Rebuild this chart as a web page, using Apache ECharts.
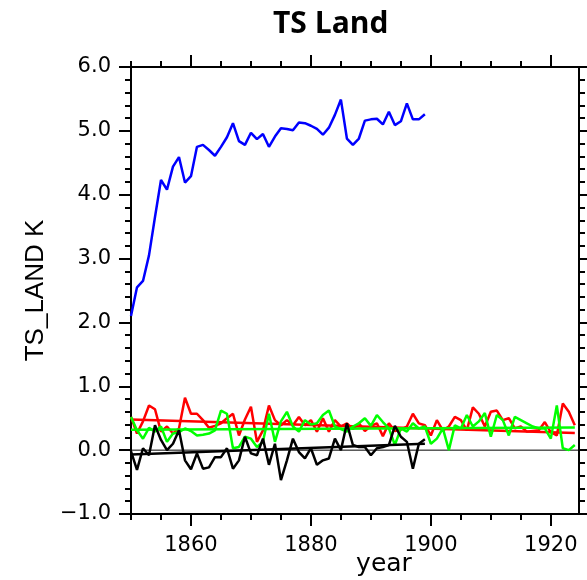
<!DOCTYPE html>
<html>
<head>
<meta charset="utf-8">
<script src="https://cdn.jsdelivr.net/npm/echarts@6/dist/echarts.min.js"></script>
<style>
html, body { margin: 0; padding: 0; background: #fff; }
#tsland { width: 587px; height: 580px; }
</style>
</head>
<body>
<div id="tsland"></div>
<script>
// years of the run
var years = [1850, 1851, 1852, 1853, 1854, 1855, 1856, 1857, 1858, 1859,
  1860, 1861, 1862, 1863, 1864, 1865, 1866, 1867, 1868, 1869,
  1870, 1871, 1872, 1873, 1874, 1875, 1876, 1877, 1878, 1879,
  1880, 1881, 1882, 1883, 1884, 1885, 1886, 1887, 1888, 1889,
  1890, 1891, 1892, 1893, 1894, 1895, 1896, 1897, 1898, 1899,
  1900, 1901, 1902, 1903, 1904, 1905, 1906, 1907, 1908, 1909,
  1910, 1911, 1912, 1913, 1914, 1915, 1916, 1917, 1918, 1919,
  1920, 1921, 1922, 1923, 1924];

// blue run (1850-1899)
var blueVals = [2.10, 2.55, 2.65, 3.05, 3.65, 4.23, 4.08, 4.44, 4.59, 4.19,
  4.29, 4.75, 4.78, 4.70, 4.61, 4.75, 4.90, 5.12, 4.84, 4.78,
  4.97, 4.87, 4.95, 4.75, 4.91, 5.04, 5.03, 5.01, 5.13, 5.12,
  5.08, 5.03, 4.94, 5.05, 5.25, 5.49, 4.88, 4.78, 4.88, 5.16,
  5.18, 5.19, 5.10, 5.30, 5.09, 5.15, 5.43, 5.18, 5.18, 5.26];

// red run (1850-1924)
var redVals = [0.52, 0.26, 0.45, 0.70, 0.64, 0.29, 0.37, 0.26, 0.34, 0.82,
  0.57, 0.57, 0.47, 0.35, 0.38, 0.42, 0.50, 0.57, 0.23, 0.48,
  0.68, 0.13, 0.31, 0.70, 0.47, 0.39, 0.47, 0.39, 0.52, 0.39,
  0.47, 0.29, 0.50, 0.29, 0.47, 0.37, 0.42, 0.33, 0.42, 0.30,
  0.38, 0.42, 0.22, 0.42, 0.30, 0.32, 0.37, 0.57, 0.42, 0.39,
  0.23, 0.47, 0.31, 0.37, 0.52, 0.47, 0.31, 0.67, 0.57, 0.37,
  0.60, 0.62, 0.47, 0.50, 0.34, 0.37, 0.29, 0.30, 0.31, 0.44,
  0.28, 0.23, 0.73, 0.60, 0.39];

// green run (1850-1924)
var greenVals = [0.52, 0.31, 0.18, 0.35, 0.29, 0.37, 0.13, 0.26, 0.28, 0.34,
  0.30, 0.23, 0.24, 0.26, 0.31, 0.62, 0.57, 0.03, 0.05, 0.21,
  0.18, 0.05, 0.13, 0.57, 0.13, 0.45, 0.60, 0.37, 0.29, 0.47,
  0.40, 0.42, 0.55, 0.62, 0.37, 0.33, 0.29, 0.37, 0.42, 0.50,
  0.38, 0.55, 0.44, 0.34, 0.08, 0.34, 0.29, 0.42, 0.34, 0.37,
  0.10, 0.18, 0.34, 0.00, 0.39, 0.34, 0.55, 0.37, 0.45, 0.58,
  0.21, 0.55, 0.47, 0.23, 0.52, 0.47, 0.42, 0.37, 0.34, 0.34,
  0.18, 0.70, 0.03, 0.00, 0.08];

// black run (1850-1899)
var blackVals = [-0.02, -0.31, 0.03, -0.08, 0.39, 0.16, 0.00, 0.10, 0.31, -0.16,
  -0.30, -0.05, -0.29, -0.27, -0.11, -0.11, 0.03, -0.29, -0.16, 0.21,
  -0.05, -0.08, 0.18, -0.23, 0.10, -0.47, -0.16, 0.18, -0.03, -0.13,
  0.03, -0.23, -0.16, -0.13, 0.18, 0.00, 0.42, 0.08, 0.05, 0.05,
  -0.08, 0.03, 0.05, 0.08, 0.38, 0.21, 0.13, -0.29, 0.10, 0.17];

// linear trend end points [start, end]
var redTrend = [[1850, 0.48], [1924, 0.27]];
var greenTrend = [[1850, 0.32], [1924, 0.355]];
var blackTrend = [[1850, -0.07], [1899, 0.10]];
var zeroLine = [[1850, 0], [1924.7, 0]];

// tick positions
var majorYears = [1860, 1880, 1900, 1920];
var minorYears = [1850, 1855, 1860, 1865, 1870, 1875, 1880, 1885, 1890, 1895,
  1900, 1905, 1910, 1915, 1920];

var xMin = 1850, xMax = 1924.7;

function pairs(vals) {
  return vals.map(function (v, i) { return [years[i], v]; });
}

function line(data, color, width) {
  return {
    type: 'line',
    data: data,
    symbol: 'none',
    silent: true,
    animation: false,
    lineStyle: { color: color, width: width }
  };
}

var axisStroke = { color: '#000', width: 2 };

function xAx(pos, ticks, len, labels) {
  return {
    type: 'value',
    position: pos,
    min: xMin,
    max: xMax,
    axisLine: { show: true, onZero: false, lineStyle: axisStroke },
    axisTick: { show: true, customValues: ticks, length: len, lineStyle: axisStroke },
    axisLabel: labels ? {
      show: true,
      customValues: majorYears,
      margin: 21,
      color: '#000',
      fontFamily: 'DejaVu Sans',
      fontSize: 21,
      formatter: function (v) { return String(v); }
    } : { show: false },
    splitLine: { show: false }
  };
}

var myChart = echarts.init(document.getElementById('tsland'));

myChart.setOption({
  animation: false,
  backgroundColor: '#fff',
  title: {
    text: 'TS Land',
    left: 268,
    top: 4,
    textStyle: {
      fontFamily: 'Open Sans',
      fontWeight: 'bold',
      fontSize: 30,
      color: '#000'
    }
  },
  grid: {
    left: 131, right: 8, top: 67, bottom: 66,
    containLabel: false,
    outerBoundsMode: 'none'
  },
  xAxis: [
    Object.assign(xAx('bottom', majorYears, 12, true), {
      name: 'year',
      nameLocation: 'middle',
      nameGap: 38,
      nameMoveOverlap: false,
      nameTextStyle: {
        fontFamily: 'DejaVu Sans',
        fontSize: 25,
        color: '#000',
        padding: [0, 0, 0, 58]
      }
    }),
    xAx('bottom', minorYears, 6, false),
    xAx('top', majorYears, 12, false),
    xAx('top', minorYears, 6, false)
  ],
  yAxis: [
    {
      type: 'value',
      position: 'left',
      min: -1,
      max: 6,
      interval: 1,
      name: 'TS_LAND K',
      nameLocation: 'middle',
      nameRotate: 90,
      nameGap: 80,
      nameTextStyle: {
        fontFamily: 'Liberation Sans',
        fontSize: 26,
        color: '#000'
      },
      axisLine: { show: true, onZero: false, lineStyle: axisStroke },
      axisTick: { show: true, length: 12, lineStyle: axisStroke },
      minorTick: { show: true, splitNumber: 5, length: 6, lineStyle: axisStroke },
      axisLabel: {
        margin: 20,
        color: '#000',
        fontFamily: 'DejaVu Sans',
        fontSize: 21,
        formatter: function (v) {
          return (v < 0 ? '\u2212' : '') + Math.abs(v).toFixed(1);
        }
      },
      splitLine: { show: false }
    },
    {
      type: 'value',
      position: 'right',
      min: -1,
      max: 6,
      interval: 1,
      axisLine: { show: true, onZero: false, lineStyle: axisStroke },
      axisTick: { show: true, length: 12, lineStyle: axisStroke },
      minorTick: { show: true, splitNumber: 5, length: 6, lineStyle: axisStroke },
      axisLabel: { show: false },
      splitLine: { show: false }
    }
  ],
  series: [
    line(zeroLine, '#000', 1),
    line(pairs(redVals), '#ff0000', 2.5),
    line(redTrend, '#ff0000', 2.5),
    line(pairs(greenVals), '#00ff00', 2.5),
    line(greenTrend, '#00ff00', 2.5),
    line(pairs(blackVals), '#000', 2.5),
    line(blackTrend, '#000', 2.5),
    line(pairs(blueVals), '#0000ff', 2.5)
  ]
});
</script>
</body>
</html>
